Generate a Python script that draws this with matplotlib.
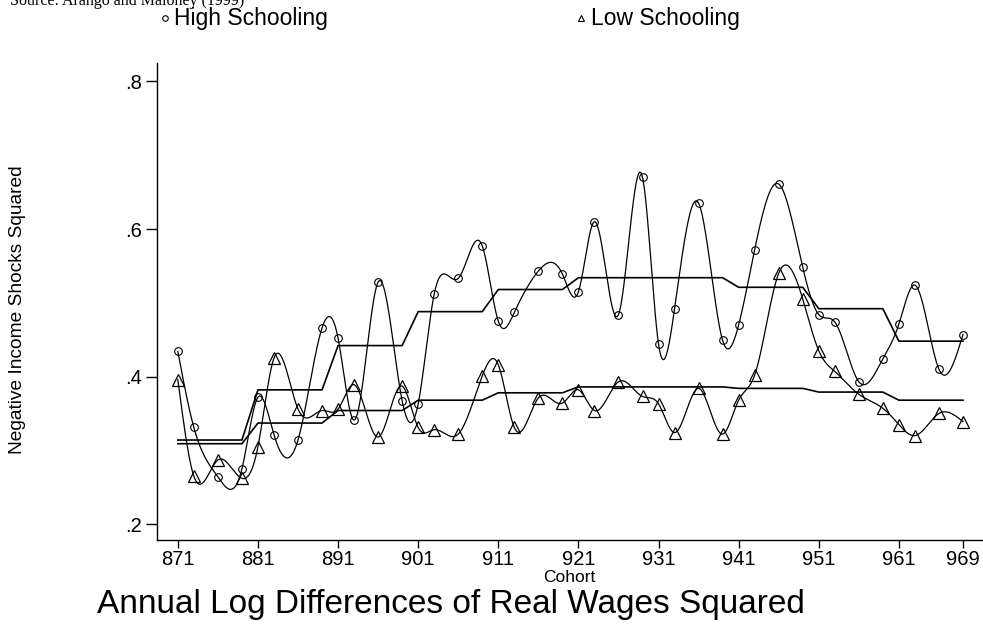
import numpy as np
import matplotlib
matplotlib.use("Agg")
import matplotlib.pyplot as plt
from matplotlib.lines import Line2D

# ---------------- data ----------------
years = [871, 873, 876, 879, 881, 883, 886, 889, 891, 893, 896, 899,
         901, 903, 906, 909, 911, 913, 916, 919, 921, 923, 926, 929,
         931, 933, 936, 939, 941, 943, 946, 949, 951, 953, 956, 959,
         961, 963, 966, 969]

high_schooling = [0.434, 0.331, 0.264, 0.275, 0.372, 0.321, 0.314, 0.466,
                  0.452, 0.341, 0.528, 0.367, 0.363, 0.512, 0.533, 0.577,
                  0.475, 0.487, 0.543, 0.539, 0.515, 0.610, 0.484, 0.670,
                  0.444, 0.492, 0.635, 0.449, 0.470, 0.572, 0.661, 0.548,
                  0.484, 0.474, 0.393, 0.424, 0.471, 0.524, 0.410, 0.457]

low_schooling = [0.396, 0.265, 0.287, 0.262, 0.305, 0.425, 0.356, 0.354,
                 0.356, 0.389, 0.318, 0.387, 0.331, 0.328, 0.322, 0.401,
                 0.416, 0.331, 0.371, 0.364, 0.382, 0.354, 0.393, 0.373,
                 0.363, 0.324, 0.384, 0.322, 0.368, 0.402, 0.540, 0.505,
                 0.435, 0.407, 0.376, 0.357, 0.335, 0.320, 0.350, 0.339]

decade_starts = [871, 881, 891, 901, 911, 921, 931, 941, 951, 961]
high_decade_level = [0.314, 0.382, 0.442, 0.488, 0.518, 0.534, 0.534, 0.521, 0.492, 0.448]
low_decade_level = [0.309, 0.337, 0.354, 0.368, 0.378, 0.386, 0.386, 0.384, 0.379, 0.368]

x_ticks = [871, 881, 891, 901, 911, 921, 931, 941, 951, 961, 969]
y_ticks = [0.2, 0.4, 0.6, 0.8]
y_tick_labels = [".2", ".4", ".6", ".8"]


# ---------------- helpers ----------------
def natural_spline(x, y, xs):
    x = np.asarray(x, float)
    y = np.asarray(y, float)
    n = len(x)
    h = np.diff(x)
    A = np.zeros((n, n))
    r = np.zeros(n)
    A[0, 0] = 1.0
    A[-1, -1] = 1.0
    for i in range(1, n - 1):
        A[i, i - 1] = h[i - 1]
        A[i, i] = 2 * (h[i - 1] + h[i])
        A[i, i + 1] = h[i]
        r[i] = 6 * ((y[i + 1] - y[i]) / h[i] - (y[i] - y[i - 1]) / h[i - 1])
    M = np.linalg.solve(A, r)
    xs = np.asarray(xs, float)
    idx = np.clip(np.searchsorted(x, xs) - 1, 0, n - 2)
    x0, x1 = x[idx], x[idx + 1]
    hh = x1 - x0
    a = (x1 - xs) / hh
    b = (xs - x0) / hh
    return (a * y[idx] + b * y[idx + 1]
            + ((a ** 3 - a) * M[idx] + (b ** 3 - b) * M[idx + 1]) * hh ** 2 / 6)


def decade_series(levels):
    out = []
    for yr in years:
        k = max(i for i, d in enumerate(decade_starts) if yr >= d)
        out.append(levels[k])
    return out


# ---------------- figure ----------------
W, H = 983, 628
fig = plt.figure(figsize=(W / 100, H / 100), dpi=100)
ax = fig.add_axes([157 / W, 1 - 540 / H, (W - 157) / W, (540 - 63) / H])

xs = np.linspace(years[0], years[-1], 1200)
lw = 0.9
ax.plot(xs, natural_spline(years, high_schooling, xs), color="black", lw=lw)
ax.plot(xs, natural_spline(years, low_schooling, xs), color="black", lw=lw)
ax.plot(years, decade_series(high_decade_level), color="black", lw=lw + 0.3)
ax.plot(years, decade_series(low_decade_level), color="black", lw=lw + 0.3)
ax.plot(years, high_schooling, ls="none", marker="o", ms=5.5, mfc="none",
        mec="black", mew=0.8)
ax.plot(years, low_schooling, ls="none", marker="^", ms=8, mfc="none",
        mec="black", mew=0.9)

ax.set_xlim(868.4, 971.5)
ax.set_ylim(0.1785, 0.825)
ax.set_xticks(x_ticks)
ax.set_xticklabels([str(t) for t in x_ticks])
ax.set_yticks(y_ticks)
ax.set_yticklabels(y_tick_labels)

for s in ["top", "right"]:
    ax.spines[s].set_visible(False)
for s in ["left", "bottom"]:
    ax.spines[s].set_linewidth(1.0)

font = "Liberation Sans"
ax.tick_params(axis="y", direction="out", length=8, width=1.0,
               labelsize=14.5, pad=3)
ax.tick_params(axis="x", direction="out", length=6, width=1.0,
               labelsize=14.5, pad=1.5)
for lab in ax.get_xticklabels() + ax.get_yticklabels():
    lab.set_family(font)

fig.text(18 / W, 1 - 310 / H, "Negative Income Shocks Squared", rotation=90,
         ha="center", va="center", fontsize=13.8, family=font)
fig.text(569 / W, 1 - 578 / H, "Cohort", ha="center", va="center",
         fontsize=12.5, family=font)
fig.text(97 / W, 1 - 613 / H, "Annual Log Differences of Real Wages Squared",
         ha="left", va="baseline", fontsize=24, family=font)

# source line (partly clipped at the top edge)
fig.text(10 / W, 1 - 5 / H, "Source: Arango and Maloney (1999)", ha="left",
         va="baseline", fontsize=11.5, family="Liberation Serif")

# legend
fig.add_artist(Line2D([165 / W], [1 - 18 / H], marker="o", ms=4, mfc="none",
                      mec="black", mew=0.8, ls="none",
                      transform=fig.transFigure))
fig.text(174 / W, 1 - 18 / H, "High Schooling", ha="left", va="center",
         fontsize=16.5, family=font)
fig.add_artist(Line2D([581 / W], [1 - 18 / H], marker="^", ms=5, mfc="none",
                      mec="black", mew=0.8, ls="none",
                      transform=fig.transFigure))
fig.text(591 / W, 1 - 18 / H, "Low Schooling", ha="left", va="center",
         fontsize=16.5, family=font)

fig.savefig("out.png", dpi=100)
